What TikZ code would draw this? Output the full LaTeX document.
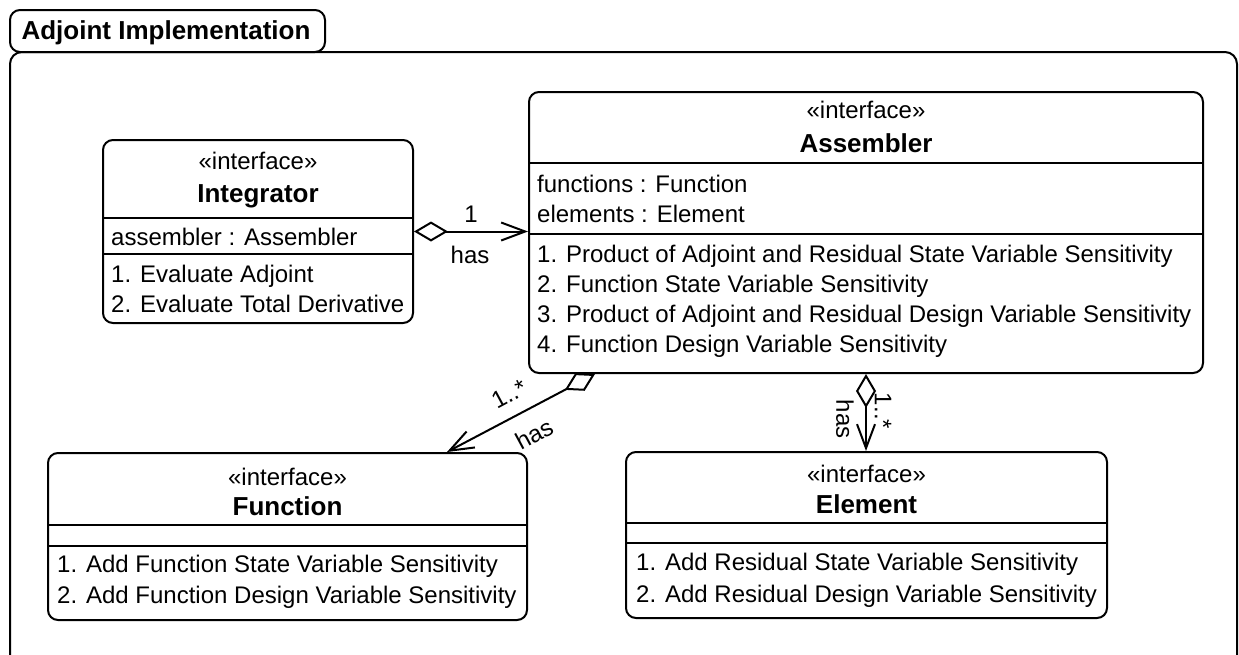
\documentclass[tikz,border=0pt]{standalone}
\usepackage{fontspec}
\setmainfont{Liberation Sans}
\usetikzlibrary{arrows.meta,calc}
\begin{document}
\begin{tikzpicture}[x=1pt,y=-1pt,
  lw/.style={line width=2pt},
  box/.style={draw, lw, rounded corners=10pt, fill=white, inner sep=0pt},
  reg/.style={font=\fontsize{24}{28}\selectfont, inner sep=0pt},
  bld/.style={font=\fontsize{26}{30}\selectfont\bfseries, inner sep=0pt},
  conn/.style={lw, {Diamond[open,length=34pt,width=20pt]}-{Straight Barb[length=24pt,width=18pt]}}]
\useasboundingbox (0,0) rectangle (1239,654);
% outer frame
\draw[lw, rounded corners=12pt] (10,52) rectangle (1237,672);
\node[box, minimum width=315pt, minimum height=42pt] (title) at (167.5,31) {};
\node[bld, anchor=base] (titletext) at (166,39) {Adjoint Implementation};

% Integrator
\node[box, minimum width=310pt, minimum height=183pt] (integ) at (258,231.5) {};
\draw[lw] (103,218) -- (413,218);
\draw[lw] (103,254) -- (413,254);
\node[reg, anchor=base] (integS) at (258,169) {«interface»};
\node[bld, anchor=base] (integN) at (258,202) {Integrator};
\node[reg, anchor=base west] (integA) at (111,245) {assembler : Assembler};
\node[reg, anchor=base west] (integO1) at (111,282) {1. Evaluate Adjoint};
\node[reg, anchor=base west] (integO2) at (111,312) {2. Evaluate Total Derivative};

% Assembler
\node[box, minimum width=674pt, minimum height=281pt] (asm) at (866,232.5) {};
\draw[lw] (529,163) -- (1203,163);
\draw[lw] (529,234) -- (1203,234);
\node[reg, anchor=base] (asmS) at (866,118) {«interface»};
\node[bld, anchor=base] (asmN) at (866,152) {Assembler};
\node[reg, anchor=base west] (asmA1) at (537,192) {functions : Function};
\node[reg, anchor=base west] (asmA2) at (537,222) {elements : Element};
\node[reg, anchor=base west] (asmO1) at (537,262) {1. Product of Adjoint and Residual State Variable Sensitivity};
\node[reg, anchor=base west] (asmO2) at (537,292) {2. Function State Variable Sensitivity};
\node[reg, anchor=base west] (asmO3) at (537,322) {3. Product of Adjoint and Residual Design Variable Sensitivity};
\node[reg, anchor=base west] (asmO4) at (537,352) {4. Function Design Variable Sensitivity};

% Function
\node[box, minimum width=479pt, minimum height=167pt] (func) at (287.5,536.5) {};
\draw[lw] (48,525) -- (527,525);
\draw[lw] (48,546) -- (527,546);
\node[reg, anchor=base] (funcS) at (287.5,485) {«interface»};
\node[bld, anchor=base] (funcN) at (287.5,515) {Function};
\node[reg, anchor=base west] (funcO1) at (57,572) {1. Add Function State Variable Sensitivity};
\node[reg, anchor=base west] (funcO2) at (57,603) {2. Add Function Design Variable Sensitivity};

% Element
\node[box, minimum width=481pt, minimum height=166pt] (elem) at (866.5,535) {};
\draw[lw] (626,523) -- (1107,523);
\draw[lw] (626,543) -- (1107,543);
\node[reg, anchor=base] (elemS) at (866.5,482) {«interface»};
\node[bld, anchor=base] (elemN) at (866.5,513) {Element};
\node[reg, anchor=base west] (elemO1) at (636,570) {1. Add Residual State Variable Sensitivity};
\node[reg, anchor=base west] (elemO2) at (636,602) {2. Add Residual Design Variable Sensitivity};

% connectors
\draw[conn] (integ.east) -- (asm.west |- integ.east);
\node[reg, anchor=base] (l1) at (471,222) {1};
\node[reg, anchor=base] (l2) at (470,263) {has};

\coordinate (fs) at ($(asm.south west)+(67,0)$);
\coordinate (fe) at ($(func.north west)+(400,0)$);
\draw[conn] (fs) -- (fe);
\node[reg, rotate=28.4] (l3) at (509,394) {1..*};
\node[reg, rotate=28.4] (l4) at (534,434) {has};

\draw[conn] (asm.south) -- (asm.south |- elem.north);
\node[reg, rotate=-90] (l5) at (845,419) {has};
\node[reg, rotate=-90] (l6) at (883,411) {1..*};
\end{tikzpicture}
\end{document}
